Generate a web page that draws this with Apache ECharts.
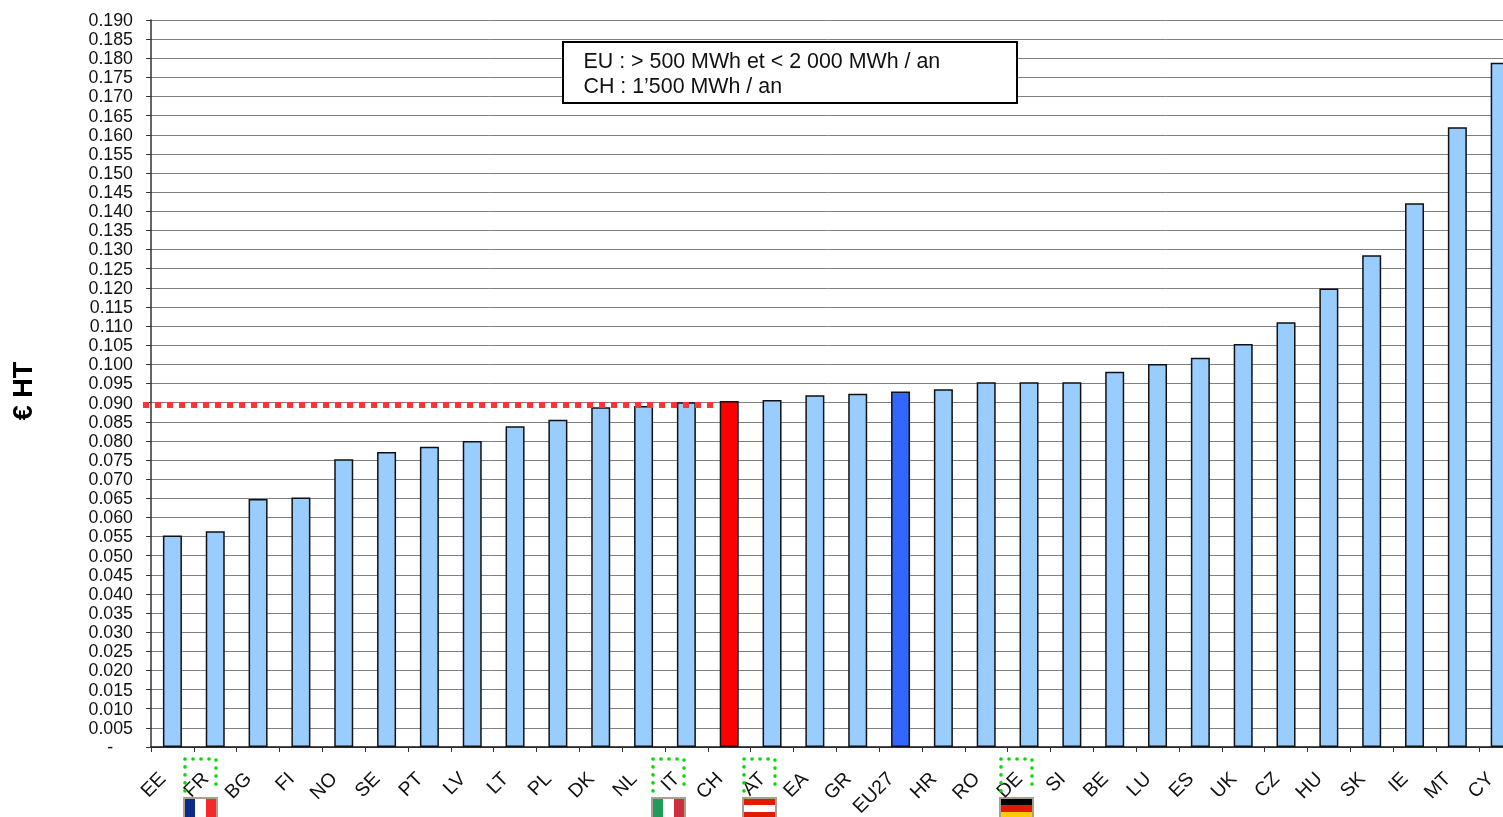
<!DOCTYPE html>
<html>
<head>
<meta charset="utf-8">
<style>
html,body{margin:0;padding:0;background:#fff;overflow:hidden}
#main{width:1503px;height:817px}
</style>
<script src="https://cdn.jsdelivr.net/npm/echarts@6/dist/echarts.min.js"></script>
</head>
<body>
<div id="main"></div>
<script>
var categories = ["EE","FR","BG","FI","NO","SE","PT","LV","LT","PL","DK","NL","IT","CH","AT","EA","GR","EU27","HR","RO","DE","SI","BE","LU","ES","UK","CZ","HU","SK","IE","MT","CY"];
var prices = [0.0553,0.0564,0.0648,0.0652,0.0752,0.0771,0.0785,0.0800,0.0838,0.0855,0.0888,0.0891,0.0901,0.0904,0.0907,0.0919,0.0923,0.0929,0.0935,0.0953,0.0953,0.0953,0.0981,0.1001,0.1017,0.1053,0.1110,0.1198,0.1285,0.1421,0.1620,0.1788];
var refLevel = 0.0894;
var refLine = [[0, refLevel], [1, refLevel]];
var noteLines = ["EU : > 500 MWh et < 2 000 MWh / an", "CH : 1\u2019500 MWh / an"];

var FONT = '"Liberation Sans", Arial, sans-serif';

// ----bars, two of them have their own colour
var barData = prices.map(function(v, i){
    var c = "#99ccff";
    if (categories[i] === "CH") c = "#ff0000";
    if (categories[i] === "EU27") c = "#3366ff";
    return {value: v, itemStyle: {color: c}};
});

// ----green dotted frame (open at the bottom) + flag under a country label
function flag(x, stripes, vertical){
    var items = [];
    var w = 33, h = 24, y = 798;
    stripes.forEach(function(c, i){
        var n = stripes.length;
        items.push({
            type: "rect",
            shape: vertical ? {x: x + i * w / n, y: y, width: w / n, height: h}
                            : {x: x, y: y + i * 7, width: w, height: 7},
            style: {fill: c}
        });
    });
    items.push({
        type: "rect",
        shape: {x: x, y: y, width: w, height: h},
        style: {fill: "none", stroke: "#a89f91", lineWidth: 2}
    });
    return items;
}
function dotBox(x){
    return {
        type: "polyline",
        z: 6,
        shape: {points: [[x, 791], [x, 759], [x + 31, 759], [x + 31, 792]]},
        style: {fill: "none", stroke: "#00dd00", lineWidth: 3.6, lineDash: [0.1, 7.9], lineCap: "round"}
    };
}

var graphics = [
    {type: "text", x: 25, y: 391, rotation: Math.PI / 2,
     style: {text: "\u20ac HT", font: "bold 27px " + FONT, fill: "#000", align: "center", verticalAlign: "middle"}},
    {type: "rect", z: 10, shape: {x: 563, y: 42, width: 454, height: 61},
     style: {fill: "#fff", stroke: "#000", lineWidth: 2}},
    {type: "text", z: 11, x: 583.5, y: 62,
     style: {text: noteLines[0], font: "21.4px " + FONT, fill: "#111", verticalAlign: "middle"}},
    {type: "text", z: 11, x: 583.5, y: 87,
     style: {text: noteLines[1], font: "21.4px " + FONT, fill: "#111", verticalAlign: "middle"}},
    dotBox(185), dotBox(653), dotBox(744), dotBox(1001)
].concat(
    flag(184, ["#0a2a8a", "#ffffff", "#f42a2a"], true),
    flag(652, ["#1e9a5a", "#ffffff", "#cf2e3e"], true),
    flag(743, ["#dd1c00", "#ffffff", "#dd1c00"], false),
    flag(1000, ["#000000", "#dd1c00", "#ffcc00"], false)
);

var myChart = echarts.init(document.getElementById("main"));
var option = {
    animation: false,
    backgroundColor: "#fff",
    textStyle: {fontFamily: FONT},
    grid: [
        {left: 151, top: 20, width: 1370.6, height: 727, containLabel: false, outerBoundsMode: "none"},
        // the red line starts left of the axis and stops at CH, so it has its own grid
        {left: 143, top: 20, width: 572, height: 727, containLabel: false, outerBoundsMode: "none"}
    ],
    xAxis: [
        {
            type: "category",
            data: categories,
            position: "bottom",
            axisLine: {lineStyle: {color: "#111", width: 1.5}},
            axisTick: {show: true, length: 5, alignWithLabel: false, lineStyle: {color: "#333"}},
            axisLabel: {show: false},
            splitLine: {show: false}
        },
        {
            // labels sit at the ticks, not under the bars
            type: "category",
            data: categories.concat([""]),
            position: "bottom",
            boundaryGap: false,
            axisLine: {show: false},
            axisTick: {show: false},
            splitLine: {show: false},
            axisLabel: {
                interval: 0, rotate: 45, align: "right", verticalAlign: "top",
                margin: 17, fontSize: 19.5, lineHeight: 34, color: "#111", fontFamily: FONT
            }
        },
        {type: "value", gridIndex: 1, show: false, min: 0, max: 1}
    ],
    yAxis: [
        {
            type: "value",
            min: 0,
            max: 0.19,
            interval: 0.005,
            axisLine: {show: true, lineStyle: {color: "#333", width: 1.5}},
            axisTick: {show: true, length: 5, lineStyle: {color: "#333"}},
            splitLine: {show: true, lineStyle: {color: "#808080", width: 1}},
            axisLabel: {
                margin: 18,
                fontSize: 17.8,
                color: "#111",
                fontFamily: FONT,
                lineHeight: 17,
                verticalAlign: "top",
                padding: [-7.5, 0, 0, 0],
                showMinLabel: true,
                showMaxLabel: true,
                formatter: function(v){
                    return v === 0 ? "-    " : v.toFixed(3);
                }
            }
        },
        {type: "value", gridIndex: 1, show: false, min: 0, max: 0.19}
    ],
    series: [
        {
            name: "prix",
            type: "bar",
            xAxisIndex: 0,
            yAxisIndex: 0,
            data: barData,
            barWidth: 19,
            z: 3,
            itemStyle: {borderColor: "#111", borderWidth: 1.5}
        },
        {
            name: "CH",
            type: "line",
            xAxisIndex: 2,
            yAxisIndex: 1,
            data: refLine,
            symbol: "none",
            z: 5,
            silent: true,
            lineStyle: {color: "#ff3333", width: 6, type: [6, 6], cap: "butt"}
        }
    ],
    graphic: {elements: graphics}
};
myChart.setOption(option);
</script>
</body>
</html>
